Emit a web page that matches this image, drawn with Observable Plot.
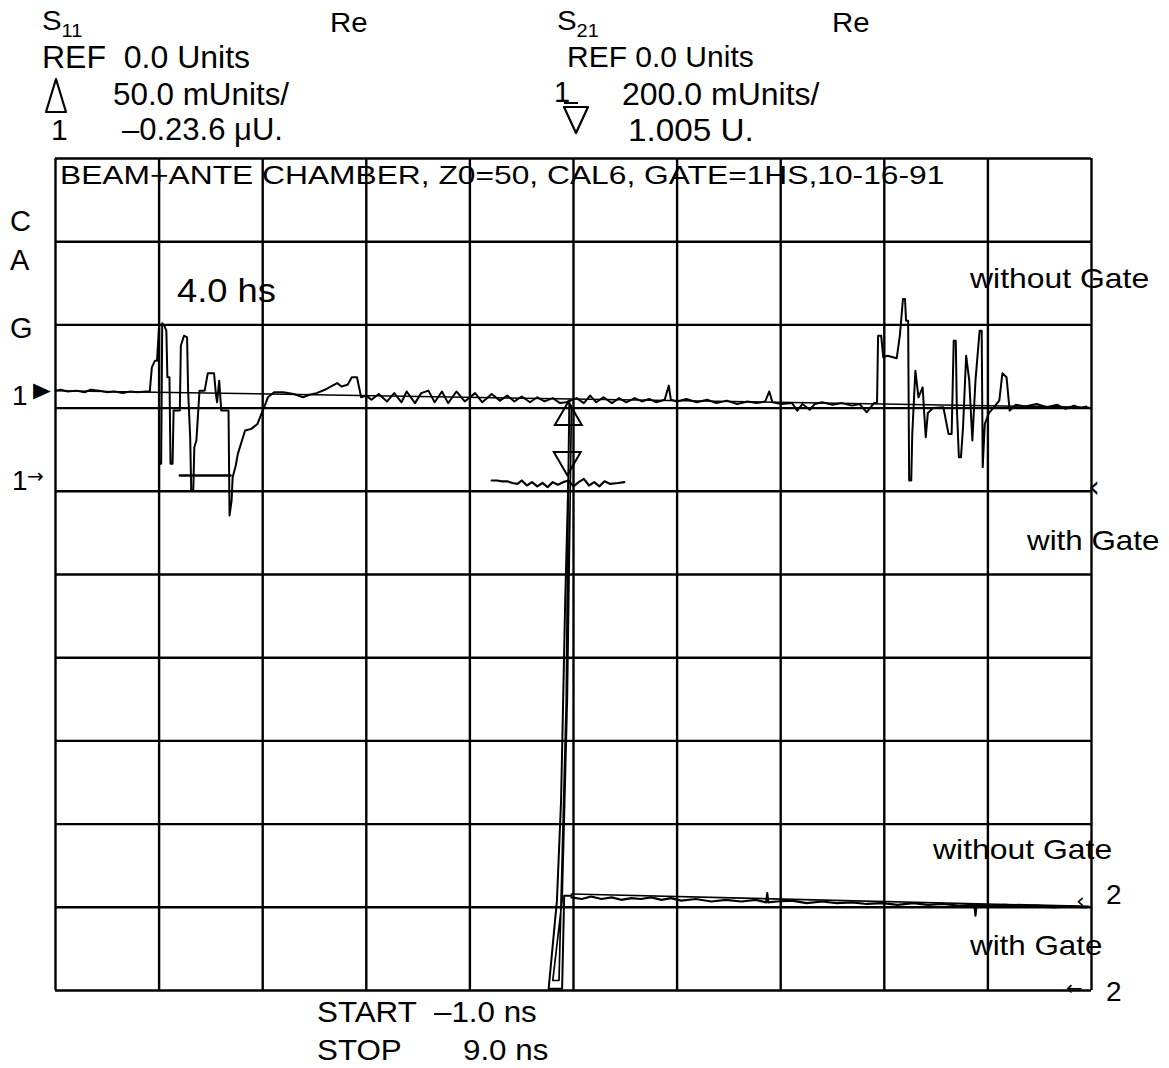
<!DOCTYPE html>
<html><head><meta charset="utf-8">
<script src="https://cdn.jsdelivr.net/npm/d3@7"></script>
<script src="https://cdn.jsdelivr.net/npm/@observablehq/plot@0.6"></script>
<style>
html,body{margin:0;padding:0;background:#fff;}
#wrap{position:relative;width:1169px;height:1068px;overflow:hidden;font-family:"Liberation Sans",Arial,sans-serif;color:#000;background:#fff;}
#wrap svg{position:absolute;left:0;top:0;}
.lbl{position:absolute;white-space:pre;line-height:0.8;transform-origin:0 0;}
.gl{position:absolute;white-space:pre;line-height:0.75;transform-origin:0 0;font-family:"DejaVu Sans",sans-serif;}
</style></head><body><div id="wrap"></div>
<script>
// time axis: START -1.0 ns, STOP 9.0 ns, 1 ns / division
const timeTicks = [-1,0,1,2,3,4,5,6,7,8,9];
// vertical axis in graticule divisions (0 = bottom, 10 = top)
const divTicks = [0,1,2,3,4,5,6,7,8,9,10];

// S11 (Re) without gate: [time ns, divisions]
const s11WithoutGate = [
[-1.00,7.21],[-0.95,7.22],[-0.88,7.20],[-0.80,7.21],[-0.72,7.19],[-0.66,7.22],[-0.58,7.21],[-0.50,7.19],[-0.43,7.20],[-0.35,7.18],[-0.28,7.20],[-0.20,7.19],[-0.13,7.20],[-0.09,7.20],
[-0.07,7.49],[-0.04,7.57],[-0.02,7.57],[0.00,7.99],[0.00,6.33],[0.02,6.33],[0.03,8.02],[0.05,7.99],[0.07,7.93],[0.08,7.37],[0.10,7.37],[0.11,6.33],[0.13,6.33],[0.14,6.97],[0.20,6.97],[0.21,7.75],[0.24,7.87],[0.27,7.85],[0.28,7.21],[0.30,6.65],[0.31,6.01],[0.33,6.01],[0.34,6.53],[0.36,6.61],[0.39,7.21],[0.44,7.21],[0.47,7.42],[0.53,7.42],[0.55,7.15],[0.56,7.07],[0.58,7.33],[0.60,6.97],[0.67,6.97],[0.68,5.71],[0.70,5.89],[0.71,6.17],[0.74,6.31],[0.76,6.45],[0.79,6.57],[0.83,6.73],[0.89,6.75],[0.95,6.81],[0.99,6.94],[1.02,7.03],[1.05,7.13],[1.11,7.19],
[1.20,7.19],[1.30,7.17],[1.39,7.13],[1.45,7.16],[1.52,7.18],[1.60,7.22],[1.66,7.26],[1.72,7.30],[1.76,7.26],[1.82,7.28],[1.86,7.37],[1.91,7.37],[1.95,7.13],[2.00,7.15],
[2.05,7.10],[2.12,7.17],[2.20,7.08],[2.27,7.18],[2.34,7.07],[2.39,7.20],[2.47,7.06],[2.53,7.18],[2.60,7.21],[2.66,7.07],[2.73,7.20],[2.79,7.06],[2.87,7.20],[2.95,7.08],[3.05,7.18],[3.12,7.07],[3.21,7.17],[3.29,7.09],[3.36,7.15],[3.43,7.08],[3.50,7.14],[3.58,7.07],[3.65,7.13],[3.72,7.08],[3.80,7.12],[3.87,7.06],[3.93,7.07],
[4.03,7.12],[4.10,7.06],[4.16,7.15],[4.22,7.07],[4.29,7.13],[4.37,7.06],[4.44,7.12],[4.51,7.07],[4.59,7.12],[4.66,7.08],[4.73,7.11],[4.80,7.07],[4.88,7.10],[4.92,7.27],[4.94,7.10],[5.00,7.08],[5.09,7.11],[5.19,7.07],[5.29,7.10],[5.38,7.06],[5.48,7.09],[5.58,7.05],[5.68,7.08],[5.77,7.06],[5.85,7.08],[5.89,7.20],[5.92,7.07],[6.01,7.05],[6.11,7.06],[6.16,6.97],[6.21,7.05],[6.28,6.98],[6.33,7.05],[6.40,7.07],[6.50,7.04],[6.59,7.06],[6.69,7.03],[6.76,7.05],[6.83,6.95],[6.90,7.06],
[6.93,7.06],[6.94,7.87],[6.97,7.87],[6.99,7.61],[7.03,7.63],[7.12,7.60],[7.15,7.87],[7.18,8.31],[7.20,8.31],[7.21,8.05],[7.23,8.05],[7.24,6.13],[7.26,6.13],[7.27,6.69],[7.30,7.45],[7.33,7.13],[7.37,7.25],[7.40,6.65],[7.42,6.94],[7.47,7.00],[7.57,7.01],[7.62,6.69],[7.65,6.69],[7.67,7.81],[7.69,7.81],[7.70,7.01],[7.72,6.41],[7.74,6.41],[7.76,6.77],[7.79,7.63],[7.82,7.33],[7.85,6.61],[7.88,7.33],[7.92,7.93],[7.94,7.93],[7.95,6.29],[7.97,6.81],[8.01,6.94],[8.11,7.09],[8.14,7.42],[8.18,7.37],[8.21,6.97],[8.27,7.04],[8.36,7.02],[8.47,7.05],[8.57,7.01],[8.67,7.04],[8.75,6.99],[8.83,7.03],[8.90,7.00],[8.95,7.02]
];
// S11 with gate (smooth)
const s11WithGate = [[-1.00,7.21],[8.97,7.01]];
const s11Shelf = [[0.20,6.19],[0.69,6.19]];

// S21 (Re) before the step
const s21Before = [
[3.21,6.13],[3.26,6.13],[3.31,6.12],[3.36,6.12],[3.41,6.10],[3.46,6.09],[3.50,6.13],[3.55,6.07],[3.60,6.11],[3.65,6.06],[3.70,6.10],[3.75,6.05],[3.80,6.11],[3.85,6.08],[3.90,6.11],[3.95,6.13],[4.00,6.06],[4.05,6.11],[4.10,6.15],[4.15,6.07],[4.20,6.11],[4.25,6.06],[4.30,6.12],[4.35,6.09],[4.43,6.10],[4.49,6.11]
];
// S21 step, without gate and with gate
const s21StepWithout = [[3.96,7.09],[3.95,6.13],[3.92,4.69],[3.88,2.28],[3.84,1.08],[3.76,0.02],[3.89,0.02],[3.91,1.14],[3.98,1.14]];
const s21StepWith = [[3.98,7.03],[3.97,6.13],[3.94,3.49],[3.89,1.08],[3.80,0.12],[3.86,0.12],[3.93,3.49],[3.95,6.13]];
// S21 after the step
const s21After = [
[3.98,1.12],[4.08,1.10],[4.17,1.13],[4.27,1.10],[4.37,1.12],[4.46,1.09],[4.56,1.11],[4.65,1.10],[4.75,1.12],[4.85,1.09],[4.94,1.11],[5.04,1.08],[5.18,1.10],[5.33,1.07],[5.47,1.09],[5.62,1.07],[5.76,1.09],[5.86,1.06],[5.87,1.17],[5.88,1.06],[5.96,1.07],[6.11,1.08],[6.25,1.05],[6.40,1.07],[6.54,1.05],[6.69,1.06],[6.83,1.04],[6.98,1.05],[7.13,1.03],[7.28,1.05],[7.42,1.03],[7.57,1.04],[7.72,1.02],[7.87,1.03],[7.88,0.90],[7.89,1.03],[8.02,1.02],[8.17,1.03],[8.32,1.01],[8.48,1.02],[8.63,1.00],[8.78,1.01],[8.95,1.00]
];
const s21Smooth = [[3.98,1.16],[8.97,1.01]];

// markers
const markerS11 = [[3.95,6.89]];
const markerS21 = [[3.94,6.38]];

const X = d => d[0], Y = d => d[1];
const ln = (data, w) => Plot.line(data, {x: X, y: Y, stroke: "black", strokeWidth: w, strokeLinejoin: "round"});

const chart = Plot.plot({
  width: 1169, height: 1068,
  marginLeft: 55, marginRight: 78, marginTop: 158, marginBottom: 78,
  x: {domain: [-1, 9], axis: null},
  y: {domain: [0, 10], axis: null},
  style: {background: "transparent", overflow: "visible"},
  marks: [
    Plot.ruleX(timeTicks, {stroke: "black", strokeWidth: 2.4}),
    Plot.ruleY(divTicks, {stroke: "black", strokeWidth: 2.4}),
    ln(s11WithGate, 1.5),
    ln(s11Shelf, 2.4),
    ln(s11WithoutGate, 2),
    ln(s21Before, 2.2),
    ln(s21StepWithout, 2),
    ln(s21StepWith, 1.7),
    ln(s21Smooth, 1.7),
    ln(s21After, 2.2),
    Plot.dot(markerS11, {x: X, y: Y, symbol: "triangle", r: 10, stroke: "black", strokeWidth: 2, fill: "none"}),
    Plot.dot(markerS21, {x: X, y: Y, symbol: "triangle", r: 10, rotate: 180, stroke: "black", strokeWidth: 2, fill: "none"})
  ]
});
const wrap = document.getElementById("wrap");
wrap.appendChild(chart);

// text labels: [html, left, capTop, fontSize, scaleX]
const sub = s => `<span style="font-size:19px;position:relative;top:7px">${s}</span>`;
const labels = [
  ["S" + sub("11"), 42, 11, 28, 1.05],
  ["Re", 330, 13, 28, 1.05],
  ["REF  0.0 Units", 42, 46, 32, 1],
  ["50.0 mUnits/", 113, 83, 32, 0.98],
  ["1", 51, 119, 30, 1],
  ["\u20130.23.6 \u03bcU.", 122, 119, 31, 1],
  ["S" + sub("21"), 557, 11, 28, 1.05],
  ["Re", 832, 13, 28, 1.05],
  ["REF 0.0 Units", 567, 46, 30, 1],
  ["1", 554, 82, 29, 1],
  ["200.0 mUnits/", 622, 83, 32, 1],
  ["1.005 U.", 628, 119, 32, 1.04],
  ["BEAM+ANTE CHAMBER, Z0=50, CAL6, GATE=1HS,10-16-91", 60, 166, 25, 1.27],
  ["C", 10, 211, 29, 1],
  ["A", 10, 250, 29, 1],
  ["G", 10, 318, 29, 1],
  ["1", 12, 386, 28, 1],
  ["1", 12, 471, 28, 1],
  ["4.0 hs", 177, 279, 33, 1.1],
  ["without Gate", 970, 269, 28, 1.14],
  ["with Gate", 1027, 531, 28, 1.12],
  ["without Gate", 933, 840, 28, 1.14],
  ["with Gate", 970, 936, 28, 1.12],
  ["2", 1106, 885, 28, 1],
  ["2", 1106, 982, 28, 1],
  ["START", 317, 1002, 29, 1.08],
  ["\u20131.0 ns", 434, 1002, 29, 1.08],
  ["STOP", 317, 1040, 29, 1.08],
  ["9.0 ns", 463, 1040, 29, 1.08]
];
for (const [html, left, capTop, size, sx] of labels) {
  const d = document.createElement("div");
  d.className = "lbl";
  d.innerHTML = html;
  d.style.left = left + "px";
  d.style.top = (capTop - 0.03 * size) + "px";
  d.style.fontSize = size + "px";
  d.style.transform = `scaleX(${sx})`;
  wrap.appendChild(d);
}
// header marker symbols (legend decorations) and the small bar after the S21 marker number
const ns = "http://www.w3.org/2000/svg";
const deco = document.createElementNS(ns, "svg");
deco.setAttribute("width", 1169); deco.setAttribute("height", 160);
deco.style.cssText = "position:absolute;left:0;top:0;pointer-events:none;";
deco.innerHTML =
  '<polygon points="56,79 46,112 66,112" fill="none" stroke="#000" stroke-width="2.2" stroke-linejoin="round"/>' +
  '<polygon points="564,107 588,107 576,133" fill="none" stroke="#000" stroke-width="2.2" stroke-linejoin="round"/>' +
  '<line x1="564" y1="103" x2="578" y2="103" stroke="#000" stroke-width="2"/>';
wrap.appendChild(deco);

// reference arrows: [glyph, left, top, size, scaleX]
const glyphs = [
  ["\u25b6", 33, 382.5, 21, 1.1],
  ["\u2192", 27, 468.5, 20, 1],
  ["\u2039", 1088, 476, 30, 1],
  ["\u2039", 1076, 893, 22, 1],
  ["\u2190", 1066, 980.5, 20, 1]
];
for (const [t, left, top, size, sx] of glyphs) {
  const d = document.createElement("div");
  d.className = "gl";
  d.textContent = t;
  d.style.left = left + "px";
  d.style.top = top + "px";
  d.style.fontSize = size + "px";
  d.style.transform = `scaleX(${sx})`;
  wrap.appendChild(d);
}
</script>
</body></html>
